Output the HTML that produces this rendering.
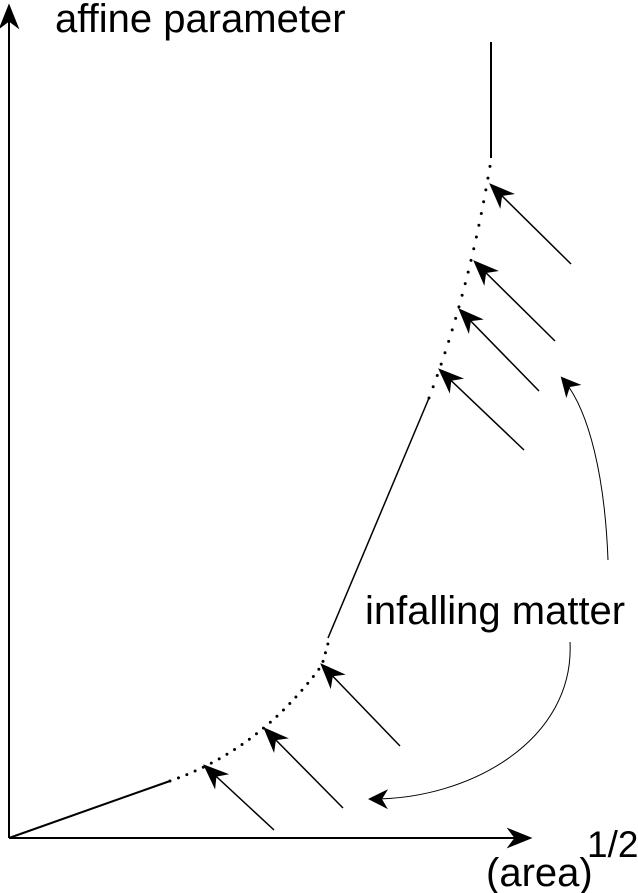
<!DOCTYPE html>
<html><head><meta charset="utf-8"><style>
html,body{margin:0;padding:0;background:#fff;}
svg{display:block;font-family:"Liberation Sans",sans-serif;}
</style></head><body>
<svg id="c" width="638" height="893" viewBox="0 0 638 893">
<defs>
<marker id="ahs" viewBox="0 0 10 10" refX="9" refY="5" markerWidth="20" markerHeight="20" markerUnits="userSpaceOnUse" orient="auto">
<path d="M0,0 L10,5 L0,10 L3,5 z" fill="#000"/></marker>
<marker id="ahx" viewBox="0 0 10 10" refX="9" refY="5" markerWidth="26" markerHeight="26" markerUnits="userSpaceOnUse" orient="auto">
<path d="M0,1 L10,5 L0,9 L3,5 z" fill="#000"/></marker>
</defs>
<line x1="9" y1="838" x2="9" y2="6" stroke="#000" stroke-width="2" marker-end="url(#ahx)"/>
<line x1="9" y1="838" x2="530" y2="838" stroke="#000" stroke-width="2" marker-end="url(#ahx)"/>
<text x="55" y="32" font-size="40">affine parameter</text>
<text x="486" y="886" font-size="40">(area)</text>
<text x="587" y="857" font-size="37">1/2</text>
<text x="365" y="624" font-size="40">infalling matter</text>
<path d="M9,838 L170,781" stroke="#000" stroke-width="2" fill="none"/>
<path d="M170,781 Q260,750 322,665 L329,640" stroke="#000" stroke-width="3" stroke-dasharray="0 9" stroke-linecap="round" fill="none"/>
<path d="M328,638 L429,398" stroke="#000" stroke-width="1.5" fill="none"/>
<path d="M429,398 Q470,290 491,160" stroke="#000" stroke-width="3" stroke-dasharray="0 12" stroke-linecap="round" fill="none"/>
<path d="M491,158 L491,42" stroke="#000" stroke-width="2" fill="none"/>
<g id="arrows"></g>
<path d="M608,560 C605,480 590,410 562,378" stroke="#000" stroke-width="1" fill="none" marker-end="url(#ahs)"/>
<path d="M570,642 C575,740 470,800 370,799" stroke="#000" stroke-width="1" fill="none" marker-end="url(#ahs)"/>
</svg>
<script>
const tipX=[205,265,322,440,460,475,491];
const tipY=[766,729,665,370,310,262,185];
const tailX=[274,343,400,524,539,555,571];
const tailY=[830,808,746,450,391,341,264];
const g=document.getElementById('arrows');
for(let i=0;i<tipX.length;i++){
  const l=document.createElementNS('http://www.w3.org/2000/svg','line');
  l.setAttribute('x1',tailX[i]);l.setAttribute('y1',tailY[i]);
  l.setAttribute('x2',tipX[i]);l.setAttribute('y2',tipY[i]);
  l.setAttribute('stroke','#000');l.setAttribute('stroke-width','1.5');
  l.setAttribute('marker-end','url(#ahx)');
  
  
  g.appendChild(l);
}
</script>
</body></html>
